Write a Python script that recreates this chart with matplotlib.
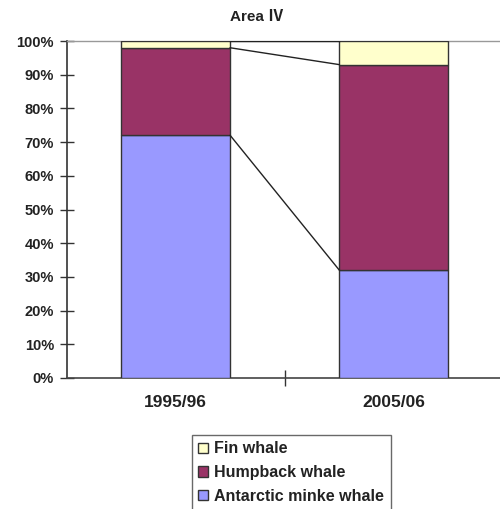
import matplotlib
matplotlib.use("Agg")
import matplotlib.pyplot as plt
import numpy as np
from matplotlib.patches import Patch

plt.rcParams['font.family'] = ['Liberation Sans', 'DejaVu Sans']

categories = ["1995/96", "2005/06"]
series_names = ["Antarctic minke whale", "Humpback whale", "Fin whale"]
minke = [72, 32]
humpback = [26, 61]
fin = [2, 7]
yticklabels = ["0%", "10%", "20%", "30%", "40%", "50%", "60%", "70%", "80%", "90%", "100%"]
title = "Area \u2163"

colors = ["#9999FF", "#993366", "#FFFFCC"]
values = [minke, humpback, fin]

fig = plt.figure(figsize=(5.0, 5.09), dpi=100)
ax = fig.add_axes([0.133, 0.2574, 0.873, 0.662])

x = np.arange(len(categories))
width = 0.5
bottom = np.zeros(len(categories))
for vals, col, name in zip(values, colors, series_names):
    ax.bar(x, vals, width, bottom=bottom, color=col, edgecolor="#333333",
           linewidth=1.0, label=name, zorder=3)
    bottom = bottom + np.array(vals)
    # series connector lines between bars
    ax.plot([x[0] + width / 2, x[1] - width / 2], [bottom[0], bottom[1]],
            color="#222222", linewidth=1.0, zorder=4)

ax.set_xlim(-0.5, 1.5)
ax.set_ylim(0, 100)
ax.set_yticks(np.arange(0, 101, 10))
ax.set_yticklabels(yticklabels, fontsize=10.5, fontweight="bold", color="#222222")
ax.set_xticks(x)
ax.set_xticklabels(categories, fontsize=12.5, fontweight="bold", color="#222222")
ax.tick_params(axis='x', length=0, pad=12)
ax.set_xticks([0.5], minor=True)
ax.tick_params(axis='x', which='minor', direction='inout', length=12, width=1, color="#333333")
ax.tick_params(axis='y', direction='inout', length=10, width=1, color="#333333", pad=4)

for s in ["right"]:
    ax.spines[s].set_visible(False)
ax.spines["top"].set_color("#999999")
ax.spines["top"].set_linewidth(1.0)
ax.spines["left"].set_color("#333333")
ax.spines["left"].set_linewidth(1.2)
ax.spines["bottom"].set_color("#444444")
ax.spines["bottom"].set_linewidth(1.2)

fig.text(0.513, 0.967, title, ha="center", va="center", fontsize=11, fontweight="bold",
         color="#222222", family=["Liberation Sans", "Noto Sans CJK JP", "DejaVu Sans"])

handles = [Patch(facecolor=colors[2], edgecolor="#333333", label=series_names[2]),
           Patch(facecolor=colors[1], edgecolor="#333333", label=series_names[1]),
           Patch(facecolor=colors[0], edgecolor="#333333", label=series_names[0])]
leg = fig.legend(handles=handles, loc="upper left", bbox_to_anchor=(0.384, 0.1454),
                 prop={"size": 11.5, "weight": "bold"}, frameon=True, fancybox=False,
                 edgecolor="#444444",
                 handlelength=0.6, handleheight=0.6, handletextpad=0.4,
                 borderpad=0.4, labelspacing=0.55, borderaxespad=0)
leg.get_frame().set_linewidth(1.0)
for t in leg.get_texts():
    t.set_color("#222222")

fig.savefig("out.png", dpi=100)
